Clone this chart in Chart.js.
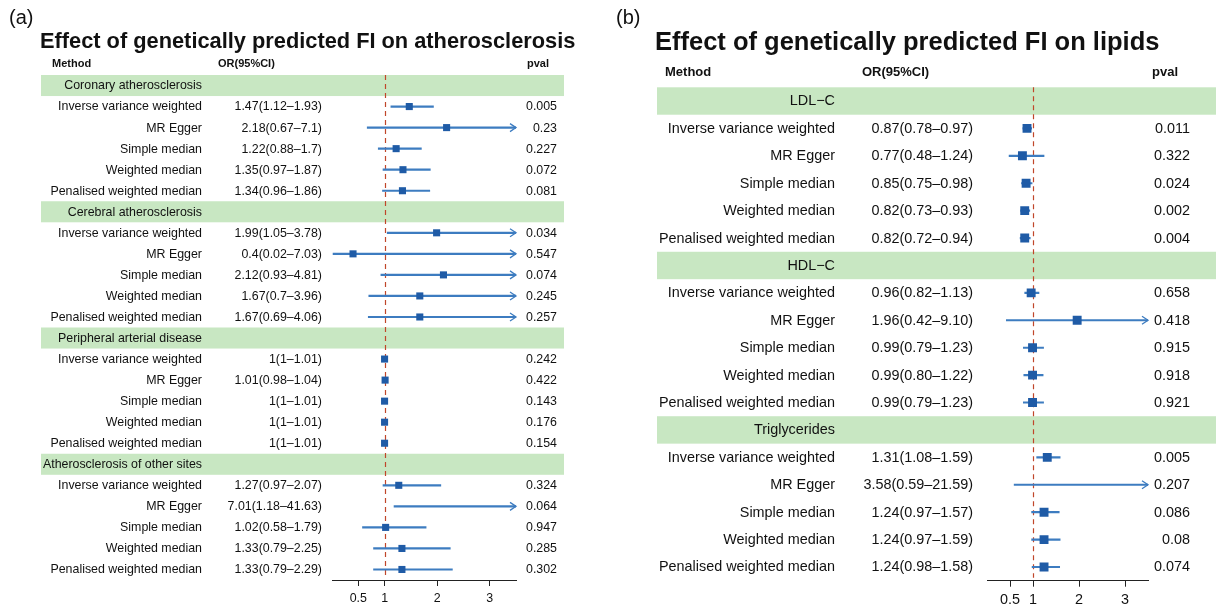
<!DOCTYPE html>
<html><head><meta charset="utf-8">
<script src="https://cdn.jsdelivr.net/npm/chart.js@4"></script>
<style>html,body{margin:0;padding:0;background:#fff;overflow:hidden}
canvas{position:absolute;left:0;top:0}</style></head>
<body>
<canvas id="ca" width="1216" height="609"></canvas>
<canvas id="cb" width="1216" height="609"></canvas>
<script>
// ---------- data ----------
const methods = ['Inverse variance weighted','MR Egger','Simple median','Weighted median','Penalised weighted median'];

const groupsA = ['Coronary atherosclerosis','Cerebral atherosclerosis','Peripheral arterial disease','Atherosclerosis of other sites'];
const orA   = [1.47,2.18,1.22,1.35,1.34,  1.99,0.4,2.12,1.67,1.67,  1,1.01,1,1,1,  1.27,7.01,1.02,1.33,1.33];
const lowA  = [1.12,0.67,0.88,0.97,0.96,  1.05,0.02,0.93,0.7,0.69,  1,0.98,1,1,1,  0.97,1.18,0.58,0.79,0.79];
const highA = [1.93,7.1,1.7,1.87,1.86,    3.78,7.03,4.81,3.96,4.06, 1.01,1.04,1.01,1.01,1.01, 2.07,41.63,1.79,2.25,2.29];
const pA    = [0.005,0.23,0.227,0.072,0.081, 0.034,0.547,0.074,0.245,0.257, 0.242,0.422,0.143,0.176,0.154, 0.324,0.064,0.947,0.285,0.302];

const groupsB = ['LDL\u2212C','HDL\u2212C','Triglycerides'];
const orB   = [0.87,0.77,0.85,0.82,0.82,  0.96,1.96,0.99,0.99,0.99,  1.31,3.58,1.24,1.24,1.24];
const lowB  = [0.78,0.48,0.75,0.73,0.72,  0.82,0.42,0.79,0.80,0.79,  1.08,0.59,0.97,0.97,0.98];
const highB = [0.97,1.24,0.98,0.93,0.94,  1.13,9.10,1.23,1.22,1.23,  1.59,21.59,1.57,1.59,1.58];
const pB    = [0.011,0.322,0.024,0.002,0.004, 0.658,0.418,0.915,0.918,0.921, 0.005,0.207,0.086,0.08,0.074];

const xTicks = [0.5, 1, 2, 3];
const xMin = 0, xMax = 3.5;
const refLine = 1;

// ---------- helpers ----------
const FONT = '"Liberation Sans", Arial, Helvetica, sans-serif';
const TXT = '#111111';
const SQUARE = '#1f5ba6';
const CI = '#3d7cc0';
const DASH = '#c0462a';
const BAND = '#c8e7c2';

function buildRows(groups, or, lo, hi, p) {
  const rows = []; let k = 0;
  groups.forEach(g => {
    rows.push({type:'head', label:g, i:rows.length});
    methods.forEach(m => {
      rows.push({type:'m', label:m, or:or[k], lo:lo[k], hi:hi[k], p:p[k], i:rows.length});
      k++;
    });
  });
  return rows;
}

function makeChart(canvasId, rows, cfg) {
  const N = rows.length;
  const mrows = rows.filter(r => r.type === 'm');
  const plugin = {
    id: 'forest_' + canvasId,
    beforeDraw(chart) {
      const ctx = chart.ctx, ys = chart.scales.y;
      const h = Math.abs(ys.getPixelForValue(1) - ys.getPixelForValue(0));
      ctx.save();
      ctx.fillStyle = BAND;
      rows.filter(r => r.type === 'head').forEach(r => {
        const y = ys.getPixelForValue(r.i);
        ctx.fillRect(cfg.bandL, y - h/2, cfg.bandR - cfg.bandL, h);
      });
      ctx.restore();
    },
    beforeDatasetsDraw(chart) {
      const ctx = chart.ctx, xs = chart.scales.x, a = chart.chartArea;
      const x = Math.round(xs.getPixelForValue(refLine)) + 0.5;
      ctx.save();
      ctx.strokeStyle = DASH; ctx.lineWidth = 1.2; ctx.setLineDash([5,4]);
      ctx.beginPath(); ctx.moveTo(x, a.top); ctx.lineTo(x, a.bottom - 3); ctx.stroke();
      ctx.restore();
    },
    afterDraw(chart) {
      const ctx = chart.ctx, ys = chart.scales.y, xs = chart.scales.x;
      ctx.save();
      ctx.fillStyle = TXT; ctx.textBaseline = 'middle';
      ctx.textAlign = 'left';
      ctx.font = `${cfg.letterSize}px ${FONT}`;
      ctx.fillText(cfg.letter, cfg.letterX, cfg.letterY);
      ctx.font = `bold ${cfg.titleSize}px ${FONT}`;
      ctx.fillText(cfg.title, cfg.titleX, cfg.titleY);
      ctx.font = `bold ${cfg.headSize}px ${FONT}`;
      ctx.fillText('Method', cfg.hMethodX, cfg.headY);
      ctx.fillText('OR(95%CI)', cfg.hOrX, cfg.headY);
      ctx.fillText('pval', cfg.hPX, cfg.headY);
      ctx.font = `${cfg.rowSize}px ${FONT}`;
      ctx.textAlign = 'right';
      rows.forEach(r => {
        const y = ys.getPixelForValue(r.i) + 0.5;
        ctx.fillText(r.label, cfg.nameR, y);
        if (r.type === 'm') {
          ctx.fillText(`${cfg.fmt(r.or)}(${cfg.fmt(r.lo)}\u2013${cfg.fmt(r.hi)})`, cfg.orR, y);
          ctx.fillText(String(r.p), cfg.pR, y);
        }
      });
      // arrows for truncated CIs
      ctx.strokeStyle = CI; ctx.lineWidth = 1.3;
      mrows.filter(r => r.hi > xMax).forEach(r => {
        const x = xs.getPixelForValue(xMax), y = ys.getPixelForValue(r.i);
        ctx.beginPath();
        ctx.moveTo(x - 6, y - 4); ctx.lineTo(x, y); ctx.lineTo(x - 6, y + 4);
        ctx.stroke();
      });
      ctx.restore();
    }
  };

  return new Chart(document.getElementById(canvasId), {
    type: 'bar',
    data: {
      datasets: [
        {
          type: 'bar', indexAxis: 'y', xAxisID: 'x', yAxisID: 'y',
          data: mrows.map(r => ({x: [r.lo, r.hi], y: r.i})),
          backgroundColor: CI, borderWidth: 0, barThickness: cfg.ciW, order: 2
        },
        {
          type: 'scatter', xAxisID: 'x', yAxisID: 'y',
          data: mrows.filter(r => r.or <= xMax).map(r => ({x: r.or, y: r.i})),
          pointStyle: 'rect', pointRadius: cfg.ptR, backgroundColor: SQUARE,
          borderWidth: 0, showLine: false, order: 1
        }
      ]
    },
    options: {
      responsive: false, animation: false, events: [],
      layout: {padding: {left: cfg.left, right: 1216 - cfg.right, top: cfg.top, bottom: 0}},
      plugins: {legend: {display: false}, tooltip: {enabled: false}},
      scales: {
        x: {
          type: 'linear', position: 'bottom', min: xMin, max: xMax, offset: false,
          afterBuildTicks: s => { s.ticks = xTicks.map(v => ({value: v})); },
          afterFit: s => { s.height = 609 - cfg.bottom; },
          ticks: {color: TXT, font: {family: FONT, size: cfg.tickSize}, padding: 5, autoSkip: false,
                  maxRotation: 0, callback: v => String(v)},
          grid: {display: true, offset: false, drawOnChartArea: false, drawTicks: true, tickLength: 6, color: '#222', lineWidth: 1},
          border: {display: true, color: '#222', width: 1}
        },
        y: {
          type: 'linear', min: -0.5, max: N - 0.5, reverse: true, display: false, offset: false,
          grid: {offset: false}
        }
      }
    },
    plugins: [plugin]
  });
}

const rowsA = buildRows(groupsA, orA, lowA, highA, pA);
const rowsB = buildRows(groupsB, orB, lowB, highB, pB);

makeChart('ca', rowsA, {
  letter: '(a)', letterX: 9, letterY: 18, letterSize: 20,
  title: 'Effect of genetically predicted FI on atherosclerosis', titleX: 40, titleY: 42, titleSize: 21.8,
  headY: 64, headSize: 11, hMethodX: 52, hOrX: 218, hPX: 527,
  rowSize: 12.4, nameR: 202, orR: 322, pR: 557, fmt: v => String(v),
  bandL: 41, bandR: 564,
  left: 332, right: 516, top: 75, bottom: 580,
  tickSize: 12.4, ptR: 5, ciW: 1.5
});

makeChart('cb', rowsB, {
  letter: '(b)', letterX: 616, letterY: 18, letterSize: 20,
  title: 'Effect of genetically predicted FI on lipids', titleX: 655, titleY: 43, titleSize: 25.5,
  headY: 72, headSize: 13, hMethodX: 665, hOrX: 862, hPX: 1152,
  rowSize: 14.4, nameR: 835, orR: 973, pR: 1190, fmt: v => v.toFixed(2),
  bandL: 657, bandR: 1216,
  left: 987, right: 1148, top: 87.3, bottom: 580.7,
  tickSize: 14.4, ptR: 6.3, ciW: 1.5
});
</script>
</body></html>
